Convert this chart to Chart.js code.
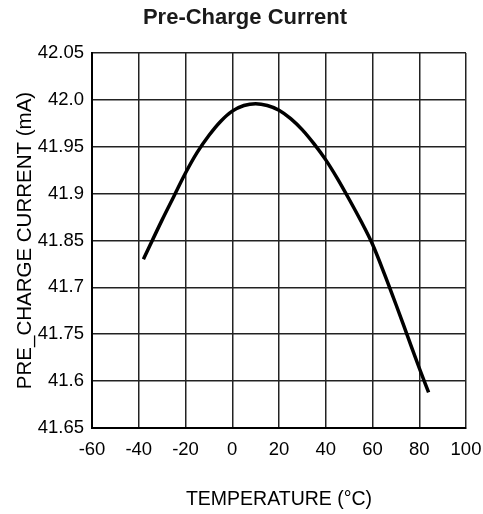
<!DOCTYPE html>
<html>
<head>
<meta charset="utf-8">
<script src="https://cdn.jsdelivr.net/npm/chart.js@4/dist/chart.umd.min.js"></script>
<style>
  html, body { margin: 0; padding: 0; background: #fff; }
  #wrap { width: 483px; height: 514px; }
</style>
</head>
<body>
<div id="wrap"><canvas id="currentChart" width="483" height="514"></canvas></div>
<script>
const temps = [-38, -30, -25, -20, -15, -10, -5, 0, 5, 10, 15, 20, 25, 30, 35, 40, 45, 50, 55, 60, 65, 70, 75, 80, 84];
const current = [41.830, 41.872, 41.897, 41.922, 41.944, 41.962, 41.977, 41.988, 41.994, 41.996, 41.994, 41.989, 41.980, 41.968, 41.953, 41.936, 41.916, 41.894, 41.871, 41.846, 41.815, 41.782, 41.748, 41.714, 41.688];

// tick labels as printed on the original (bottom to top)
const yTickValues = [41.65, 41.70, 41.75, 41.80, 41.85, 41.90, 41.95, 42.00, 42.05];
const yTickLabels = ['41.65', '41.6', '41.75', '41.7', '41.85', '41.9', '41.95', '42.0', '42.05'];

const fontFamily = '"Liberation Sans", Arial, Helvetica, sans-serif';
Chart.defaults.font.family = fontFamily;
Chart.defaults.color = '#000';

// centre the title over the whole canvas instead of the padded box
const titleShift = {
    id: 'titleShift',
    afterLayout(chart) {
        if (chart.titleBlock) {
            chart.titleBlock.left = 0;
            chart.titleBlock.right = 490;
        }
    }
};

const ctx = document.getElementById('currentChart');

new Chart(ctx, {
    type: 'line',
    data: {
        datasets: [{
            data: temps.map((t, i) => ({ x: t, y: current[i] })),
            borderColor: '#000',
            borderWidth: 3.5,
            cubicInterpolationMode: 'monotone',
            pointRadius: 0,
            fill: false
        }]
    },
    plugins: [titleShift],
    options: {
        responsive: false,
        animation: false,
        layout: { padding: { left: 0, right: 17, top: 0, bottom: 0 } },
        plugins: {
            legend: { display: false },
            tooltip: { enabled: false },
            title: {
                display: true,
                text: 'Pre-Charge Current',
                color: '#1a1a1a',
                font: { size: 22, weight: 'bold' },
                padding: { top: 5, bottom: 21.6 }
            }
        },
        scales: {
            x: {
                type: 'linear',
                min: -60,
                max: 100,
                ticks: { stepSize: 20, font: { size: 18.5 }, padding: 11, maxRotation: 0 },
                grid: { color: '#222', lineWidth: 1.5, drawTicks: false },
                border: { color: '#000', width: 2 },
                title: {
                    display: true,
                    text: 'TEMPERATURE (°C)',
                    font: { size: 19.5 },
                    padding: { top: 0, bottom: 3 }
                },
                afterFit: s => { s.height = 86; s.paddingLeft = 0; s.paddingRight = 0; }
            },
            y: {
                min: 41.65,
                max: 42.05,
                afterBuildTicks: s => { s.ticks = yTickValues.map(v => ({ value: v })); },
                ticks: {
                    font: { size: 18.5 },
                    padding: 8,
                    callback: (v, i) => yTickLabels[i]
                },
                grid: { color: '#222', lineWidth: 1.5, drawTicks: false },
                border: { color: '#000', width: 2 },
                title: {
                    display: true,
                    text: 'PRE_CHARGE CURRENT (mA)',
                    font: { size: 20.5 },
                    padding: { top: 13, bottom: 0 }
                },
                afterFit: s => { s.width = 92; s.paddingTop = 0; s.paddingBottom = 0; }
            }
        }
    }
});
</script>
</body>
</html>
